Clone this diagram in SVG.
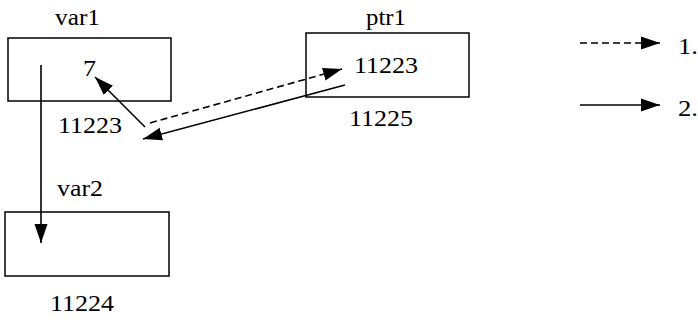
<svg xmlns="http://www.w3.org/2000/svg" width="698" height="323" viewBox="0 0 698 323">
  <defs>
    <marker id="head" markerUnits="userSpaceOnUse" markerWidth="20" markerHeight="14" refX="19" refY="7" orient="auto">
      <path d="M0,0.5 L19,7 L0,13.5 Z" fill="#000"/>
    </marker>
    <style>
      .box { fill: #fff; stroke: #000; stroke-width: 1.5; }
      .lbl { font-family: "Liberation Serif", "Times New Roman", serif; font-size: 23px; fill: #000; }
      .link { fill: none; stroke: #000; stroke-width: 1.6; marker-end: url(#head); }
      .dash { stroke-dasharray: 7 4; }
    </style>
  </defs>
  <rect width="698" height="323" fill="#fff"/>

  <!-- variables -->
  <g id="var1">
    <rect class="box" x="8" y="38" width="163" height="63"/>
    <text class="lbl" x="55" y="25" textLength="45" lengthAdjust="spacingAndGlyphs">var1</text>
    <text class="lbl" x="83" y="76" textLength="13" lengthAdjust="spacingAndGlyphs">7</text>
    <text class="lbl" x="58" y="133" textLength="64" lengthAdjust="spacingAndGlyphs">11223</text>
  </g>
  <g id="var2">
    <rect class="box" x="5" y="212" width="164" height="64"/>
    <text class="lbl" x="57" y="196" textLength="46" lengthAdjust="spacingAndGlyphs">var2</text>
    <text class="lbl" x="50" y="311" textLength="64" lengthAdjust="spacingAndGlyphs">11224</text>
  </g>
  <g id="ptr1">
    <rect class="box" x="306" y="33" width="163" height="64"/>
    <text class="lbl" x="366" y="25" textLength="40" lengthAdjust="spacingAndGlyphs">ptr1</text>
    <text class="lbl" x="354" y="73" textLength="64" lengthAdjust="spacingAndGlyphs">11223</text>
    <text class="lbl" x="349" y="126" textLength="64" lengthAdjust="spacingAndGlyphs">11225</text>
  </g>

  <!-- legend -->
  <g id="legend">
    <text class="lbl" x="678" y="54" textLength="20" lengthAdjust="spacingAndGlyphs">1.</text>
    <text class="lbl" x="678" y="116" textLength="20" lengthAdjust="spacingAndGlyphs">2.</text>
  </g>

  <!-- connectors -->
  <g id="connectors">
    <line class="link" x1="41" y1="65" x2="41" y2="243"/>
    <line class="link" x1="145" y1="127" x2="95" y2="77"/>
    <line class="link dash" x1="150" y1="123" x2="342" y2="69"/>
    <line class="link" x1="345" y1="85" x2="143" y2="139"/>
    <line class="link dash" x1="580" y1="43" x2="660" y2="43"/>
    <line class="link" x1="580" y1="105" x2="660" y2="105"/>
  </g>
</svg>
